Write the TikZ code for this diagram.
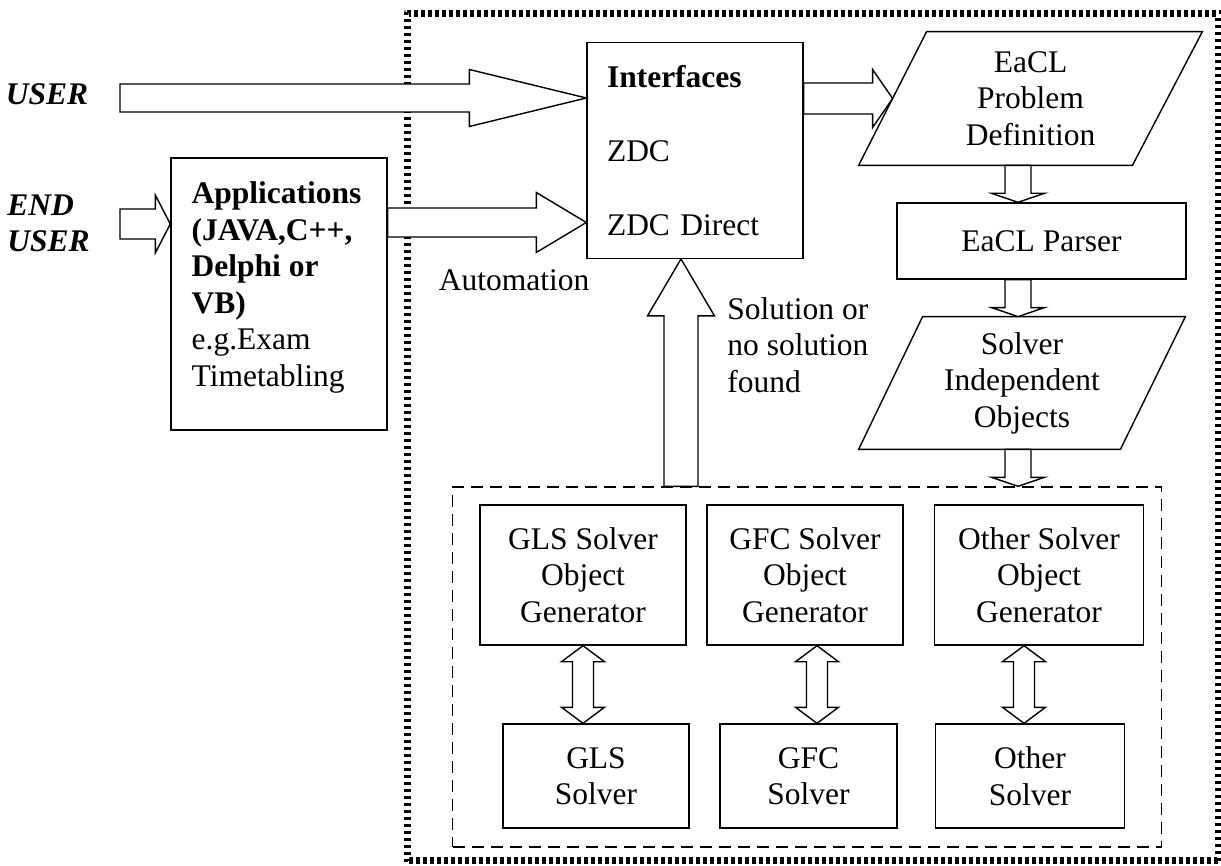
\documentclass[tikz,border=0pt]{standalone}
\usepackage{fontspec}
\setmainfont{Liberation Serif}
\usetikzlibrary{positioning,calc}

% hollow block arrow: from, tip, shaft half width, head half width, head length
\newcommand{\blockarrow}[5]{%
	\coordinate (ba) at ($(#2)!#5!(#1)$);
	\draw[blockarr] ($(#1)!#3!90:(#2)$) -- ($(ba)!#3!-90:(#1)$) -- ($(ba)!#4!-90:(#1)$) -- (#2)
		-- ($(ba)!#4!90:(#1)$) -- ($(ba)!#3!90:(#1)$) -- ($(#1)!#3!-90:(#2)$) -- cycle;
}
% hollow block arrow with a head at both ends
\newcommand{\dblockarrow}[5]{%
	\coordinate (bb1) at ($(#1)!#5!(#2)$);
	\coordinate (bb2) at ($(#2)!#5!(#1)$);
	\draw[blockarr] (#1) -- ($(bb1)!#4!90:(#2)$) -- ($(bb1)!#3!90:(#2)$) -- ($(bb2)!#3!-90:(#1)$)
		-- ($(bb2)!#4!-90:(#1)$) -- (#2) -- ($(bb2)!#4!90:(#1)$) -- ($(bb2)!#3!90:(#1)$)
		-- ($(bb1)!#3!-90:(#2)$) -- ($(bb1)!#4!-90:(#2)$) -- cycle;
}

\begin{document}
\begin{tikzpicture}[x=0.5pt,y=-0.5pt]
	\tikzstyle{every node}=[font=\fontsize{15.75}{18.25}\selectfont, inner sep=0pt]
	\tikzstyle{box}=[draw, line width=0.7pt]
	\tikzstyle{blockarr}=[draw, fill=white, line width=0.7pt]
	\tikzstyle{actor}=[font=\fontsize{15.75}{18.25}\selectfont\bfseries\itshape, align=left]
	\useasboundingbox (0,0) rectangle (1221,866);

	% checkered frame
	\draw[black!45, line width=3.5pt] (407.5,13.5) rectangle (1218.5,860.5);
	\draw[white, line width=1.75pt, dash pattern=on 1.75pt off 1.75pt, dash phase=1.75pt] (405.75,11.75) rectangle (1220.25,862.25);
	\draw[line width=1.75pt, dash pattern=on 1.75pt off 1.75pt] (405.75,11.75) rectangle (1220.25,862.25);
	\draw[white, line width=1.75pt, dash pattern=on 1.75pt off 1.75pt] (409.25,15.25) rectangle (1216.75,858.75);
	\draw[line width=1.75pt, dash pattern=on 1.75pt off 1.75pt, dash phase=1.75pt] (409.25,15.25) rectangle (1216.75,858.75);

	% left side
	\draw (47,94) node (user) [actor] {USER};
	\draw (7,223.5) node (enduser) [actor, anchor=west] {END\\USER};
	\draw (279,294) node (apps) [box, minimum width=108pt, minimum height=136pt] {};
	\draw (apps.north west) ++(21,24) node (appstext) [anchor=north west, align=left] {\textbf{Applications}\\\textbf{(JAVA,C++,}\\\textbf{Delphi or}\\\textbf{VB)}\\e.g.Exam\\Timetabling};
	\draw (514,280) node (auto) {Automation};

	% interfaces and problem definition
	\draw (695,150.5) node (intf) [box, minimum width=108pt, minimum height=107.75pt, text width=88pt, align=left] {\textbf{Interfaces}\\[18.75pt]ZDC\\[18.75pt]ZDC Direct};
	\draw (1030.5,98.5) node (eacl) [minimum width=171.5pt, minimum height=66.5pt, align=center] {EaCL\\Problem\\Definition};
	\draw[box] (eacl.south west) -- ($(eacl.north west)+(68,0)$) -- (eacl.north east) -- ($(eacl.south east)+(-70,0)$) -- cycle;
	\draw (1041.5,241) node (parser) [box, minimum width=144.5pt, minimum height=38pt] {EaCL Parser};
	\draw (1022,383) node (sio) [minimum width=163pt, minimum height=66pt, align=center] {Solver\\Independent\\Objects};
	\draw[box] (sio.south west) -- ($(sio.north west)+(64,0)$) -- (sio.north east) -- ($(sio.south east)+(-65,0)$) -- cycle;
	\draw (727,345) node (found) [anchor=west, align=left] {Solution or\\no solution\\found};

	% solver layer
	\draw (807,667) node (solvers) [box, dash pattern=on 6pt off 3.5pt, minimum width=354.5pt, minimum height=180pt] {};
	\draw (583,575) node (glsgen) [box, minimum width=103pt, minimum height=70pt, align=center] {GLS Solver\\Object\\Generator};
	\draw (805,575) node (gfcgen) [box, minimum width=98pt, minimum height=70pt, align=center] {GFC Solver\\Object\\Generator};
	\draw (1039,575) node (othgen) [box, minimum width=104.5pt, minimum height=70pt, align=center] {Other Solver\\Object\\Generator};
	\draw (596,776) node (glssol) [box, minimum width=93pt, minimum height=52pt, align=center] {GLS\\Solver};
	\draw (808.5,776) node (gfcsol) [box, minimum width=88.5pt, minimum height=52pt, align=center] {GFC\\Solver};
	\draw (1030,776) node (othsol) [box, minimum width=94.5pt, minimum height=52pt, align=center] {Other\\Solver};

	% arrow end points
	\coordinate (userstart) at (120,98);
	\coordinate (userend) at (intf.west |- userstart);
	\coordinate (endstart) at (120,224);
	\coordinate (endend) at (apps.west |- endstart);
	\coordinate (appout) at ($(apps.east)+(0,-71.5)$);
	\coordinate (appin) at (intf.west |- appout);
	\coordinate (eaclin) at ($(eacl.west)+(34,0)$);
	\coordinate (intfout) at (intf.east |- eaclin);
	\coordinate (colx) at (1018,0);
	\coordinate (d1a) at (colx |- eacl.south);
	\coordinate (d1b) at (colx |- parser.north);
	\coordinate (d2a) at (colx |- parser.south);
	\coordinate (d2b) at (colx |- sio.north);
	\coordinate (d3a) at (colx |- sio.south);
	\coordinate (d3b) at (colx |- solvers.north);
	\coordinate (upx) at (681,0);
	\coordinate (upa) at (upx |- solvers.north);
	\coordinate (upb) at (upx |- intf.south);
	\coordinate (glsa) at (glsgen.south);
	\coordinate (glsb) at (glsa |- glssol.north);
	\coordinate (gfca) at ($(gfcgen.south)+(12,0)$);
	\coordinate (gfcb) at (gfca |- gfcsol.north);
	\coordinate (otha) at ($(othgen.south)+(-15,0)$);
	\coordinate (othb) at (otha |- othsol.north);

	% block arrows
	\blockarrow{userstart}{userend}{7pt}{14.25pt}{58.5pt}
	\blockarrow{endstart}{endend}{7.5pt}{14.5pt}{7.5pt}
	\blockarrow{appout}{appin}{7.25pt}{15pt}{25pt}
	\blockarrow{intfout}{eaclin}{7.75pt}{14.5pt}{10pt}
	\blockarrow{d1a}{d1b}{6.5pt}{13.25pt}{4.5pt}
	\blockarrow{d2a}{d2b}{6.5pt}{13.25pt}{4.5pt}
	\blockarrow{d3a}{d3b}{6.5pt}{13.25pt}{4.5pt}
	\blockarrow{upa}{upb}{8.5pt}{16.75pt}{28.5pt}
	\dblockarrow{glsa}{glsb}{5.25pt}{10.75pt}{8pt}
	\dblockarrow{gfca}{gfcb}{5.25pt}{10.75pt}{8pt}
	\dblockarrow{otha}{othb}{5.25pt}{10.75pt}{8pt}
\end{tikzpicture}
\end{document}
